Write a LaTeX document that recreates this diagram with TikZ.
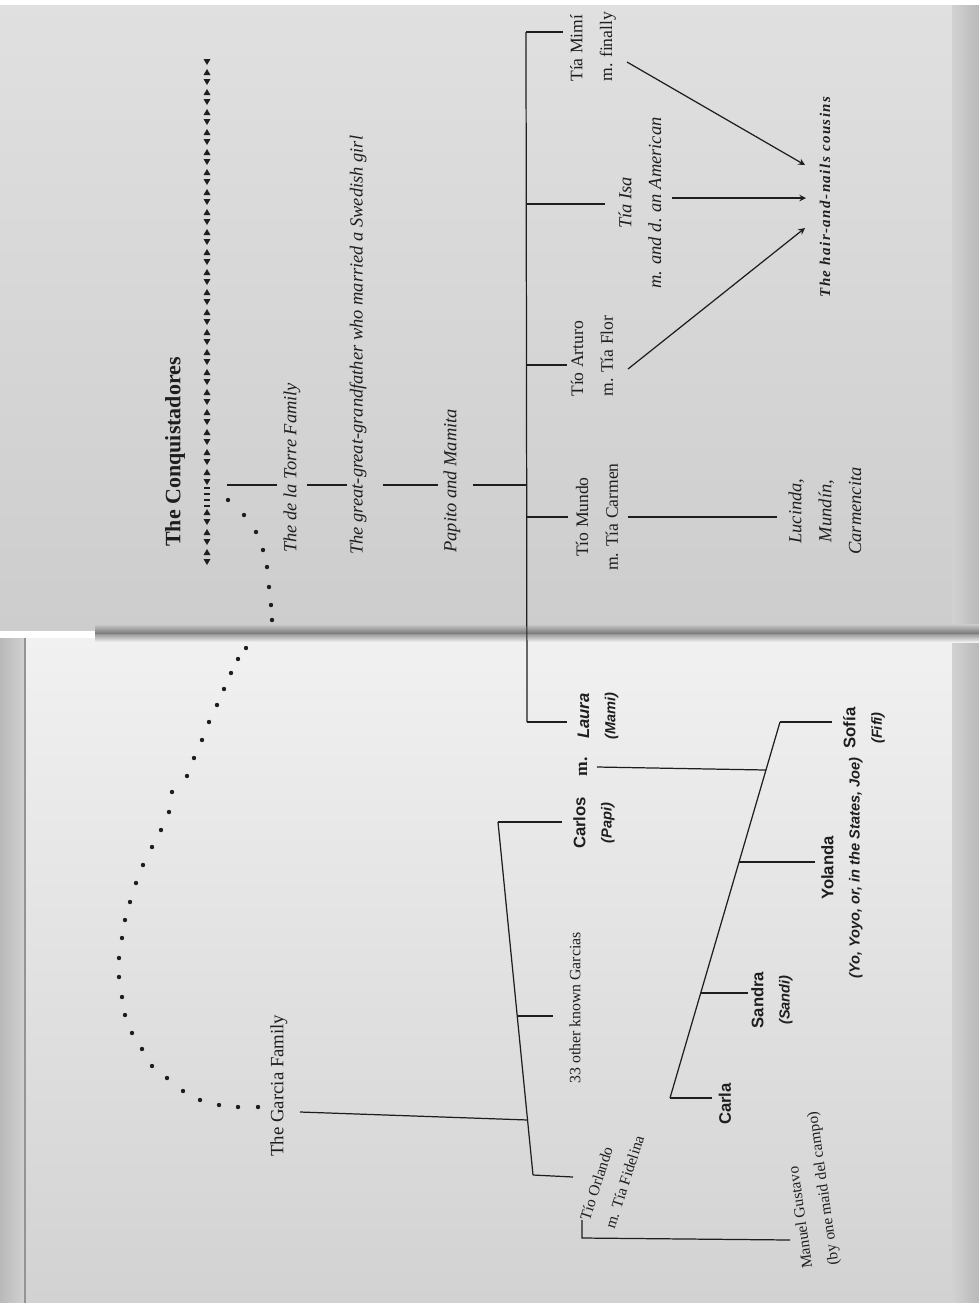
\documentclass[tikz,border=0pt]{standalone}
\usepackage{fontspec}
\setmainfont{Liberation Serif}
\newfontfamily\kidfont{Liberation Sans}
\newfontfamily\spacedfont[LetterSpace=10]{Liberation Serif}
\usepackage{tikz}
\usetikzlibrary{arrows}
\pgfdeclarelayer{paperlayer}
\pgfdeclarelayer{nodelayer}
\pgfdeclarelayer{edgelayer}
\pgfsetlayers{paperlayer,edgelayer,nodelayer,main}
\definecolor{ink}{HTML}{1E1E1E}
\definecolor{pagetop}{HTML}{E0E0E0}
\definecolor{pagefold}{HTML}{CDCDCD}
\definecolor{pagelight}{HTML}{F1F1F1}
\definecolor{pagelow}{HTML}{D2D2D2}
\definecolor{pageedge}{HTML}{B9B9B9}
\newcommand{\kidsub}{\fontsize{8.3}{15}\selectfont\itshape}
\tikzstyle{none}=[inner sep=0pt]
\tikzset{txt/.style={rotate=90, inner sep=0pt, text=ink, font=\fontsize{10}{17}\selectfont}}
\tikzset{ital/.style={txt, font=\fontsize{10.5}{17}\selectfont\itshape}}
\tikzset{kid/.style={txt, align=center, font=\kidfont\fontsize{9.5}{15}\selectfont\bfseries}}
\tikzset{tilted/.style={inner sep=0pt, text=ink, align=left, rotate=#1, font=\fontsize{8.8}{15}\selectfont}}
\tikzset{cousins/.style={txt, font=\spacedfont\fontsize{8.5}{12}\selectfont\bfseries\itshape}}
\tikzset{branch/.style={draw=ink, line width=0.7pt}}
\tikzset{pointer/.style={branch, -stealth}}

\begin{document}
\begin{tikzpicture}[x=0.02cm, y=-0.02cm]
	\useasboundingbox (0,0) rectangle (979,1303);
	\begin{pgfonlayer}{paperlayer}
		\fill [white] (0,0) rectangle (979,1303);
		\shade [top color=pagetop, bottom color=pagefold] (0,5) rectangle (979,630);
		\shade [top color=pagelight, bottom color=pagelow] (0,638) rectangle (979,1303);
		\shade [left color=pageedge, right color=pagelow] (0,638) rectangle (25,1303);
		\draw [pageedge!80!black, line width=0.6pt] (25,638) -- (25,1303);
		\shade [left color=pagelow, right color=pageedge] (952,5) rectangle (979,1303);
		\shade [top color=pagefold, bottom color=black!55] (95,624) rectangle (979,634);
		\shade [top color=black!40, bottom color=pagelight] (95,634) rectangle (979,642);
	\end{pgfonlayer}
	\begin{pgfonlayer}{nodelayer}
		% de la Torre side
		\node [style=none] (0) at (227, 485) {};
		\node [style=none] (1) at (277, 485) {};
		\node [style=none] (2) at (307, 485) {};
		\node [style=none] (3) at (347, 485) {};
		\node [style=none] (4) at (383, 485) {};
		\node [style=none] (5) at (438, 485) {};
		\node [style=none] (6) at (473, 485) {};
		\node [style=none] (7) at (526, 485) {};
		\node [style=none] (8) at (526, 32) {};
		\node [style=none] (9) at (563, 32) {};
		\node [style=none] (10) at (526, 204) {};
		\node [style=none] (11) at (605, 204) {};
		\node [style=none] (12) at (526, 365) {};
		\node [style=none] (13) at (567, 365) {};
		\node [style=none] (14) at (526, 517) {};
		\node [style=none] (15) at (568, 517) {};
		\node [style=none] (16) at (527, 722) {};
		\node [style=none] (17) at (567, 722) {};
		\node [style=none] (18) at (628, 517) {};
		\node [style=none] (19) at (777, 517) {};
		\node [style=none] (20) at (627, 62) {};
		\node [style=none] (21) at (805, 165) {};
		\node [style=none] (22) at (672, 198) {};
		\node [style=none] (23) at (806, 198) {};
		\node [style=none] (24) at (628, 369) {};
		\node [style=none] (25) at (805, 228) {};
		% Garcia side
		\node [style=none] (26) at (597, 767) {};
		\node [style=none] (27) at (766, 770) {};
		\node [style=none] (28) at (780, 722) {};
		\node [style=none] (29) at (832, 722) {};
		\node [style=none] (30) at (739, 862) {};
		\node [style=none] (31) at (815, 862) {};
		\node [style=none] (32) at (701, 993) {};
		\node [style=none] (33) at (748, 993) {};
		\node [style=none] (34) at (670, 1098) {};
		\node [style=none] (35) at (712, 1098) {};
		\node [style=none] (36) at (498, 822) {};
		\node [style=none] (37) at (562, 822) {};
		\node [style=none] (38) at (517, 1016) {};
		\node [style=none] (39) at (553, 1016) {};
		\node [style=none] (40) at (300, 1112) {};
		\node [style=none] (41) at (528, 1120) {};
		\node [style=none] (42) at (533, 1175) {};
		\node [style=none] (43) at (573, 1177) {};
		\node [style=none] (44) at (582, 1220) {};
		\node [style=none] (45) at (582, 1238) {};
		\node [style=none] (46) at (790, 1240) {};

		\node [txt, anchor=west, font=\fontsize{12.5}{15}\selectfont\bfseries] (50) at (175, 547) {The Conquistadores};
		\node [ital, anchor=west] (51) at (292, 553) {The de la Torre Family};
		\node [ital, anchor=west] (52) at (358, 555) {The great-great-grandfather who married a Swedish girl};
		\node [ital, anchor=west] (53) at (452, 553) {Papito and Mamita};
		\node [txt, align=center] (54) at (597, 517) {Tío Mundo\\m. Tía Carmen};
		\node [txt, align=left, anchor=west] (55) at (592, 397) {Tío Arturo\\m. Tía Flor};
		\node [ital, align=center] (56) at (640, 203) {Tía Isa\\m. and d. an American};
		\node [txt, align=left, anchor=west] (57) at (593, 82) {Tía Mimí\\m. finally};
		\node [ital, align=center] (58) at (825, 511) {Lucinda,\\Mundín,\\Carmencita};
		\node [cousins] (59) at (825, 197) {The hair-and-nails cousins};

		\node [kid] (60) at (594, 823) {Carlos\\{\kidsub (Papi)}};
		\node [txt, font=\fontsize{10}{12}\selectfont\bfseries] (61) at (583, 767) {m.};
		\node [kid] (62) at (598, 716) {\itshape Laura\\{\kidsub (Mami)}};
		\node [kid] (63) at (864, 728) {Sofía\\{\kidsub (Fifi)}};
		\node [kid] (64) at (842, 868) {Yolanda\\{\kidsub (Yo, Yoyo, or, in the States, Joe)}};
		\node [kid] (65) at (772, 1000) {Sandra\\{\kidsub (Sandi)}};
		\node [kid] (66) at (725, 1104) {Carla};
		\node [txt, anchor=west, font=\fontsize{9}{12}\selectfont] (67) at (575, 1084) {33 other known Garcias};
		\node [txt, anchor=west, font=\fontsize{10.7}{13}\selectfont] (68) at (279, 1157) {The Garcia Family};
		\node [tilted=72] (69) at (612, 1178) {Tío Orlando\\m. Tía Fidelina};
		\node [tilted=98] (70) at (811, 1190) {Manuel Gustavo\\(by one maid del campo)};
	\end{pgfonlayer}
	\begin{pgfonlayer}{edgelayer}
		\draw [branch] (0.center) to (1.center);
		\draw [branch] (2.center) to (3.center);
		\draw [branch] (4.center) to (5.center);
		\draw [branch] (6.center) to (7.center);
		\draw [branch] (8.center) to (16.center);
		\draw [branch] (8.center) to (9.center);
		\draw [branch] (10.center) to (11.center);
		\draw [branch] (12.center) to (13.center);
		\draw [branch] (14.center) to (15.center);
		\draw [branch] (16.center) to (17.center);
		\draw [branch] (18.center) to (19.center);
		\draw [pointer] (20.center) to (21.center);
		\draw [pointer] (22.center) to (23.center);
		\draw [pointer] (24.center) to (25.center);
		\draw [branch] (26.center) to (27.center);
		\draw [branch] (28.center) to (34.center);
		\draw [branch] (28.center) to (29.center);
		\draw [branch] (30.center) to (31.center);
		\draw [branch] (32.center) to (33.center);
		\draw [branch] (34.center) to (35.center);
		\draw [branch] (36.center) to (42.center);
		\draw [branch] (36.center) to (37.center);
		\draw [branch] (38.center) to (39.center);
		\draw [branch] (40.center) to (41.center);
		\draw [branch] (42.center) to (43.center);
		\draw [branch] (44.center) to (45.center) to (46.center);
		% ornament row
		\foreach \i in {0,...,42,45,46,...,50} {
			\pgfmathsetmacro{\s}{mod(\i,2)==0 ? 1 : -1}
			\fill [ink] (203.5, {62+10*\i-3*\s}) -- (210.5, {62+10*\i-3*\s}) -- (207, {62+10*\i+3*\s}) -- cycle;
		}
		\foreach \y in {488,494,500,506}
			\fill [ink] (204, \y-1.4) rectangle (210, \y+1.4);
		% dotted trail
		\foreach \p in {(228,500), (244,515), (256,532), (263,550), (267,567), (269,587), (271,605), (272,620),
			(246,648), (238,659), (231,673), (224,689), (217,705), (209,722), (202,740), (194,758), (187,776), (172,792),
			(169,812), (161,830), (152,847), (143,865), (136,883), (130,902), (125,920), (122,938), (119,958),
			(119,977), (122,997), (125,1015), (132,1033), (142,1049), (152,1066), (167,1078), (183,1091),
			(200,1100), (219,1105), (238,1107), (258,1107)}
			\fill [ink] \p circle (2.2);
	\end{pgfonlayer}
\end{tikzpicture}
\end{document}
